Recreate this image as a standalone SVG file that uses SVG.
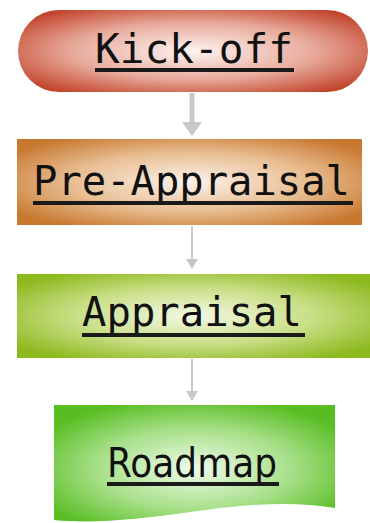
<svg xmlns="http://www.w3.org/2000/svg" width="370" height="523" viewBox="0 0 370 523">
<defs>
<radialGradient id="gRed" cx="0.5" cy="0.5" r="0.62">
<stop offset="0" stop-color="#fdf3f1"/><stop offset="0.55" stop-color="#e8ab9c"/><stop offset="1" stop-color="#c2432a"/>
</radialGradient>
<radialGradient id="gOr" cx="0.5" cy="0.5" r="0.62">
<stop offset="0" stop-color="#fcf2ea"/><stop offset="0.55" stop-color="#e8be92"/><stop offset="1" stop-color="#c8782f"/>
</radialGradient>
<radialGradient id="gYg" cx="0.5" cy="0.5" r="0.62">
<stop offset="0" stop-color="#f3f8e6"/><stop offset="0.55" stop-color="#c8de84"/><stop offset="1" stop-color="#8db91e"/>
</radialGradient>
<radialGradient id="gGr" cx="0.5" cy="0.55" r="0.62">
<stop offset="0" stop-color="#effbea"/><stop offset="0.55" stop-color="#a8e08a"/><stop offset="1" stop-color="#58bd22"/>
</radialGradient>
</defs>
<style>
.lbl{font-family:"DejaVu Sans Mono","Liberation Mono",monospace;font-size:40px;fill:#111;}
.lbl2{font-family:"DejaVu Sans","Liberation Sans",sans-serif;font-size:40px;fill:#111;}
.ul{fill:#1a1a1a;}
.conn{stroke:#c8c8c8;fill:none;}
.head{fill:#c8c8c8;}
</style>
<g id="connectors">
<line class="conn" x1="192" y1="93" x2="192" y2="124" stroke-width="5"/>
<path class="head" d="M182,122 L202,122 L192,136 Z"/>
<line class="conn" x1="192" y1="226" x2="192" y2="262" stroke-width="2"/>
<path class="head" d="M186,259 L198,259 L192,269 Z"/>
<line class="conn" x1="192" y1="359" x2="192" y2="394" stroke-width="2"/>
<path class="head" d="M186,391 L198,391 L192,401 Z"/>
</g>
<g id="kickoff">
<rect x="18" y="10" width="350" height="82" rx="41" ry="41" fill="url(#gRed)"/>
<text class="lbl" x="95" y="63" textLength="198" lengthAdjust="spacingAndGlyphs">Kick-off</text>
<rect class="ul" x="95" y="68" width="199" height="4"/>
</g>
<g id="preappraisal">
<rect x="17" y="139" width="345" height="86" fill="url(#gOr)"/>
<text class="lbl" x="33" y="195" textLength="317" lengthAdjust="spacingAndGlyphs">Pre-Appraisal</text>
<rect class="ul" x="33" y="201" width="320" height="4"/>
</g>
<g id="appraisal">
<rect x="17" y="274" width="353" height="84" fill="url(#gYg)"/>
<text class="lbl" x="82" y="326" textLength="220" lengthAdjust="spacingAndGlyphs">Appraisal</text>
<rect class="ul" x="82" y="333" width="223" height="4"/>
</g>
<g id="roadmap">
<path d="M54,405 L335,405 L335,508 C290,500 240,505 190,512 C140,519 95,524 54,520 Z" fill="url(#gGr)"/>
<text class="lbl2" x="107" y="477" textLength="170" lengthAdjust="spacingAndGlyphs">Roadmap</text>
<rect class="ul" x="107" y="482" width="172" height="4"/>
</g>
</svg>
